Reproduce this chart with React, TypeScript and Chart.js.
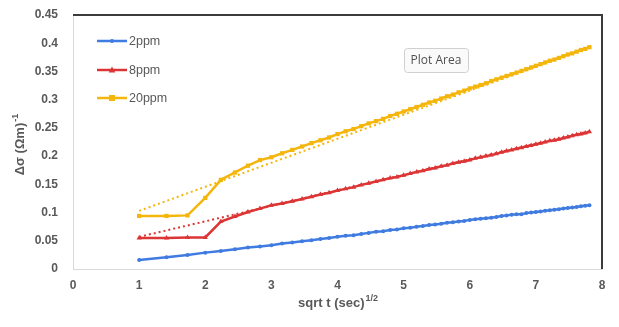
import React, { useEffect, useRef } from "react";
import { Chart, registerables } from "chart.js";

Chart.register(...registerables);

const xValues = [
  1, 1.414, 1.732, 2, 2.236, 2.449, 2.646, 2.828, 3, 3.162, 3.317, 3.464, 3.606, 3.742, 3.873, 4,
  4.123, 4.243, 4.359, 4.472, 4.583, 4.69, 4.796, 4.899, 5, 5.099, 5.196, 5.292, 5.385, 5.477,
  5.568, 5.657, 5.745, 5.831, 5.916, 6, 6.083, 6.164, 6.245, 6.325, 6.403, 6.481, 6.557, 6.633,
  6.708, 6.782, 6.856, 6.928, 7, 7.071, 7.141, 7.211, 7.28, 7.348, 7.416, 7.483, 7.55, 7.616,
  7.681, 7.746, 7.81,
];

const ppm2 = [
  0.016, 0.021, 0.025, 0.029, 0.032, 0.035, 0.038, 0.04, 0.042, 0.045, 0.047, 0.049, 0.051, 0.053,
  0.055, 0.057, 0.059, 0.06, 0.062, 0.064, 0.066, 0.067, 0.069, 0.07, 0.072, 0.073, 0.075, 0.076,
  0.078, 0.079, 0.08, 0.082, 0.083, 0.084, 0.085, 0.087, 0.088, 0.089, 0.09, 0.091, 0.092, 0.094,
  0.095, 0.096, 0.097, 0.097, 0.099, 0.1, 0.101, 0.102, 0.103, 0.104, 0.105, 0.106, 0.107, 0.108,
  0.109, 0.11, 0.111, 0.112, 0.113,
];

const ppm8 = [
  0.055, 0.055, 0.056, 0.056, 0.084, 0.093, 0.101, 0.107, 0.113, 0.116, 0.12, 0.124, 0.128, 0.132,
  0.135, 0.139, 0.142, 0.145, 0.149, 0.152, 0.155, 0.158, 0.161, 0.163, 0.166, 0.169, 0.172, 0.174,
  0.177, 0.179, 0.182, 0.184, 0.187, 0.189, 0.191, 0.193, 0.196, 0.198, 0.2, 0.202, 0.204, 0.207,
  0.209, 0.211, 0.213, 0.215, 0.217, 0.219, 0.221, 0.223, 0.225, 0.227, 0.228, 0.23, 0.232, 0.234,
  0.236, 0.238, 0.239, 0.241, 0.243,
];

const ppm20 = [
  0.094, 0.094, 0.095, 0.126, 0.158, 0.171, 0.183, 0.193, 0.198, 0.205, 0.211, 0.217, 0.223, 0.228,
  0.233, 0.239, 0.244, 0.248, 0.253, 0.258, 0.262, 0.266, 0.271, 0.275, 0.279, 0.283, 0.287, 0.291,
  0.295, 0.298, 0.302, 0.306, 0.309, 0.313, 0.316, 0.32, 0.323, 0.326, 0.329, 0.333, 0.336, 0.339,
  0.342, 0.345, 0.348, 0.351, 0.354, 0.357, 0.36, 0.363, 0.366, 0.369, 0.371, 0.374, 0.377, 0.38,
  0.382, 0.385, 0.388, 0.39, 0.393,
];

// dotted linear trendlines (values at first and last x)
const trend8 = [0.057, 0.244];
const trend20 = [0.103, 0.393];

const seriesNames = ["2ppm", "8ppm", "20ppm"];
const seriesColors = ["#3F7BE0", "#DC3535", "#F4B60C"];
const seriesMarkers = ["circle", "triangle", "rect"];

const xTicks = [0, 1, 2, 3, 4, 5, 6, 7, 8];
const yTicks = [0, 0.05, 0.1, 0.15, 0.2, 0.25, 0.3, 0.35, 0.4, 0.45];

const xTitle = "sqrt t (sec)";
const xTitleSup = "1/2";
const yTitle = "Δσ (Ωm)";
const yTitleSup = "-1";
const plotLabel = "Plot Area";

function drawMarker(ctx: CanvasRenderingContext2D, style: string, x: number, y: number, r: number, color: string) {
  ctx.fillStyle = color;
  ctx.beginPath();
  if (style === "circle") {
    ctx.arc(x, y, r, 0, Math.PI * 2);
  } else if (style === "triangle") {
    ctx.moveTo(x, y - r * 1.2);
    ctx.lineTo(x + r * 1.1, y + r * 0.8);
    ctx.lineTo(x - r * 1.1, y + r * 0.8);
    ctx.closePath();
  } else {
    ctx.rect(x - r, y - r, r * 2, r * 2);
  }
  ctx.fill();
}

const FONT = "'Liberation Sans', Arial, sans-serif";
const TEXT_COLOR = "#595959";

const overlayPlugin = {
  id: "overlay",
  afterDraw(chart: any) {
    const { ctx, chartArea: ca } = chart;
    ctx.save();
    // dark frame on top and right
    ctx.strokeStyle = "#3C3C3C";
    ctx.lineWidth = 2;
    ctx.beginPath();
    ctx.moveTo(ca.left, ca.top);
    ctx.lineTo(ca.right, ca.top);
    ctx.lineTo(ca.right, ca.bottom);
    ctx.stroke();

    // legend
    const legX0 = ca.left + 24;
    const legRows = [ca.top + 26, ca.top + 55, ca.top + 83];
    ctx.font = `12.5px ${FONT}`;
    ctx.textBaseline = "middle";
    ctx.textAlign = "left";
    for (let i = 0; i < seriesNames.length; i++) {
      const y = legRows[i];
      ctx.strokeStyle = seriesColors[i];
      ctx.lineWidth = 2.5;
      ctx.beginPath();
      ctx.moveTo(legX0, y);
      ctx.lineTo(legX0 + 30, y);
      ctx.stroke();
      drawMarker(ctx, seriesMarkers[i], legX0 + 15, y, i === 0 ? 2 : 3, seriesColors[i]);
      ctx.fillStyle = TEXT_COLOR;
      ctx.fillText(seriesNames[i], legX0 + 32, y + 1);
    }

    // "Plot Area" label box
    const bx = 404, by = 48, bw = 64, bh = 24;
    ctx.fillStyle = "#FAFAFA";
    ctx.strokeStyle = "#D0D0D0";
    ctx.lineWidth = 1;
    ctx.beginPath();
    ctx.roundRect(bx + 0.5, by + 0.5, bw, bh, 3);
    ctx.fill();
    ctx.stroke();
    ctx.fillStyle = "#505050";
    ctx.font = `12px 'Open Sans', 'Noto Sans', sans-serif`;
    ctx.textAlign = "center";
    ctx.fillText(plotLabel, bx + bw / 2, by + bh / 2 + 1);

    // x axis title with superscript
    ctx.fillStyle = TEXT_COLOR;
    ctx.textAlign = "left";
    ctx.textBaseline = "alphabetic";
    const mainFont = `bold 13px ${FONT}`;
    const supFont = `bold 9px ${FONT}`;
    ctx.font = mainFont;
    const w1 = ctx.measureText(xTitle).width;
    ctx.font = supFont;
    const w2 = ctx.measureText(xTitleSup).width;
    const cx = (ca.left + ca.right) / 2;
    const tx = cx - (w1 + w2) / 2;
    const tb = ca.bottom + 38;
    ctx.font = mainFont;
    ctx.fillText(xTitle, tx, tb);
    ctx.font = supFont;
    ctx.fillText(xTitleSup, tx + w1 + 1, tb - 6);

    // y axis title rotated
    ctx.save();
    const cy = (ca.top + ca.bottom) / 2 + 3;
    ctx.translate(24, cy);
    ctx.rotate(-Math.PI / 2);
    ctx.font = mainFont;
    const v1 = ctx.measureText(yTitle).width;
    ctx.font = supFont;
    const v2 = ctx.measureText(yTitleSup).width;
    const sx = -(v1 + v2) / 2;
    ctx.font = mainFont;
    ctx.fillText(yTitle, sx, 0);
    ctx.font = supFont;
    ctx.fillText(yTitleSup, sx + v1 + 1, -6);
    ctx.restore();

    ctx.restore();
  },
};

export default function App() {
  const ref = useRef<HTMLCanvasElement | null>(null);

  useEffect(() => {
    if (!ref.current) return;
    const allY = [ppm2, ppm8, ppm20];
    const datasets: any[] = [];
    allY.forEach((ys, i) => {
      datasets.push({
        label: seriesNames[i],
        data: xValues.map((x, k) => ({ x, y: ys[k] })),
        borderColor: seriesColors[i],
        backgroundColor: seriesColors[i],
        borderWidth: 2.5,
        pointStyle: seriesMarkers[i],
        pointRadius: i === 0 ? 2 : 3,
        pointBorderWidth: 0,
        pointBackgroundColor: seriesColors[i],
        tension: 0,
        order: 1,
      });
    });
    const x0 = xValues[0];
    const x1 = xValues[xValues.length - 1];
    [[1, trend8], [2, trend20]].forEach(([i, t]: any) => {
      datasets.push({
        label: seriesNames[i] + " trend",
        data: [
          { x: x0, y: t[0] },
          { x: x1, y: t[1] },
        ],
        borderColor: seriesColors[i],
        borderWidth: 2,
        borderDash: [2, 3],
        pointRadius: 0,
        order: 2,
      });
    });

    const chart = new Chart(ref.current, {
      type: "line",
      data: { datasets },
      options: {
        animation: false,
        responsive: false,
        devicePixelRatio: 1,
        layout: { padding: { top: 15, right: 17, left: 30, bottom: 0 } },
        plugins: { legend: { display: false }, tooltip: { enabled: false }, title: { display: false } },
        scales: {
          x: {
            type: "linear",
            min: xTicks[0],
            max: xTicks[xTicks.length - 1],
            afterBuildTicks: (s: any) => { s.ticks = xTicks.map((v) => ({ value: v })); },
            afterFit: (s: any) => { s.height = 58; },
            grid: { display: false },
            border: { display: true, color: "#D9D9D9", width: 1 },
            ticks: {
              color: TEXT_COLOR,
              font: { family: FONT, size: 12, weight: "bold" },
              padding: 1,
              maxRotation: 0,
              callback: (v: any) => String(v),
            },
          },
          y: {
            min: yTicks[0],
            max: yTicks[yTicks.length - 1],
            afterBuildTicks: (s: any) => { s.ticks = yTicks.map((v) => ({ value: v })); },
            afterFit: (s: any) => { s.width = 43; },
            grid: { display: false },
            border: { display: true, color: "#D9D9D9", width: 1 },
            ticks: {
              color: TEXT_COLOR,
              font: { family: FONT, size: 12, weight: "bold" },
              padding: 7,
              callback: (v: any) => String(Number(Number(v).toFixed(2))),
            },
          },
        },
      },
      plugins: [overlayPlugin],
    });
    return () => chart.destroy();
  }, []);

  return (
    <div style={{ position: "fixed", left: 0, top: 0, width: 619, height: 327, background: "#fff" }}>
      <canvas ref={ref} width={619} height={327} style={{ width: 619, height: 327, display: "block" }} />
    </div>
  );
}
